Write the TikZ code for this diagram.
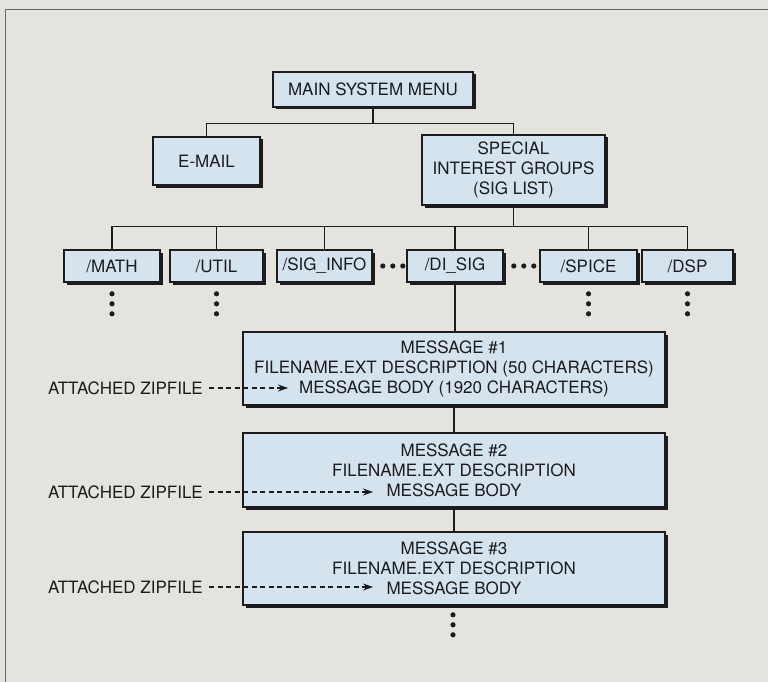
\documentclass[tikz,border=0pt]{standalone}
\usepackage{fontspec}
\setmainfont{TeX Gyre Heros}
\definecolor{paper}{rgb}{0.90,0.89,0.87}
\definecolor{boxblue}{rgb}{0.83,0.89,0.93}
\definecolor{ink}{rgb}{0.11,0.11,0.12}
\definecolor{framegray}{rgb}{0.40,0.40,0.40}
\usetikzlibrary{arrows.meta,positioning,shadows}

\begin{document}
\begin{tikzpicture}[x=1pt,y=-1pt,
    box/.style={draw=ink,line width=1.6pt,fill=boxblue,text=ink,inner sep=0pt,align=center,
      font=\fontsize{17}{20}\selectfont,drop shadow={shadow xshift=2.5pt,shadow yshift=-2.5pt,opacity=1,fill=ink}},
    dirbox/.style={box,minimum height=32pt},
    msgbox/.style={box,minimum width=422pt,minimum height=73pt},
    lbl/.style={text=ink,inner sep=0pt,font=\fontsize{17}{20}\selectfont},
    link/.style={draw=ink,line width=1.1pt},
    zip/.style={ink,line width=1.1pt,dash pattern=on 5pt off 3.5pt,-{Stealth[length=10pt,width=7pt]}},
    dot/.style={fill=ink,radius=2.6pt}]
    \fill[paper] (0,0) rectangle (768,682);
    \useasboundingbox (0,0) rectangle (768,682);
    \draw[framegray,line width=1pt] (5,682) -- (5,10) -- (768,10);
    \node[box,minimum width=200pt,minimum height=35pt] (menu) at (373,89.5) {MAIN SYSTEM MENU};
    \node[box,minimum width=107pt,minimum height=48pt] (email) at (206.5,161) {E-MAIL};
    \node[box,minimum width=183pt,minimum height=70pt] (sig) at (513.5,170) {SPECIAL\\INTEREST GROUPS\\(SIG LIST)};
    \node[dirbox,minimum width=96pt] (math) at (112,266) {/MATH};
    \node[dirbox,minimum width=93pt] (util) at (216.5,266) {/UTIL};
    \node[dirbox,minimum width=95pt] (siginfo) at (324.5,266) {/SIG\_INFO};
    \node[dirbox,minimum width=96pt] (disig) at (455,266) {/DI\_SIG};
    \node[dirbox,minimum width=97pt] (spice) at (588.5,266) {/SPICE};
    \node[dirbox,minimum width=91pt] (dsp) at (687.5,266) {/DSP};
    \node[msgbox] (msg1) at (454,368.5) {MESSAGE \#1\\FILENAME.EXT DESCRIPTION (50 CHARACTERS)\\MESSAGE BODY (1920 CHARACTERS)};
    \node[msgbox,minimum height=74pt] (msg2) at (454,470) {MESSAGE \#2\\FILENAME.EXT DESCRIPTION\\MESSAGE BODY};
    \node[msgbox] (msg3) at (454,568.5) {MESSAGE \#3\\FILENAME.EXT DESCRIPTION\\MESSAGE BODY};
    \coordinate (bus) at ([yshift=23pt]math.north);
    \draw[link] (menu.south) -- ++(0,15.5) coordinate (fork) -| (email.north);
    \draw[link] (fork) -| (sig.north);
    \draw[link] (math.north) -- (bus) -| (dsp.north);
    \foreach \n in {util,siginfo,disig,spice} \draw[link] (\n.north) -- (\n.north |- bus);
    \draw[link] (sig.south) -- (sig.south |- bus);
    \draw[link] (disig.south) -- (disig.south |- msg1.north);
    \draw[link] (msg1.south) -- (msg2.north);
    \draw[link] (msg2.south) -- (msg3.north);
    \foreach \n in {math,util,spice,dsp} \foreach \d in {11,21,31} \fill[dot] ([yshift=-\d pt]\n.south) circle;
    \foreach \d in {10,20,30} {\fill[dot] ([xshift=\d pt]siginfo.east) circle; \fill[dot] ([xshift=\d pt]disig.east) circle;}
    \foreach \d in {9,19,29} \fill[dot] ([xshift=-1pt,yshift=-\d pt]msg3.south) circle;
    \node[lbl,anchor=east] (zip1) at (203,388) {ATTACHED ZIPFILE};
    \node[lbl,anchor=east] (zip2) at (203,492) {ATTACHED ZIPFILE};
    \node[lbl,anchor=east] (zip3) at (203,587) {ATTACHED ZIPFILE};
    \coordinate (body1) at (288,388);
    \coordinate (body2) at (373,492);
    \coordinate (body3) at (373,587);
    \foreach \i in {1,2,3} \draw[zip] ([xshift=6pt]zip\i.east) -- (body\i);
  \end{tikzpicture}
\end{document}
